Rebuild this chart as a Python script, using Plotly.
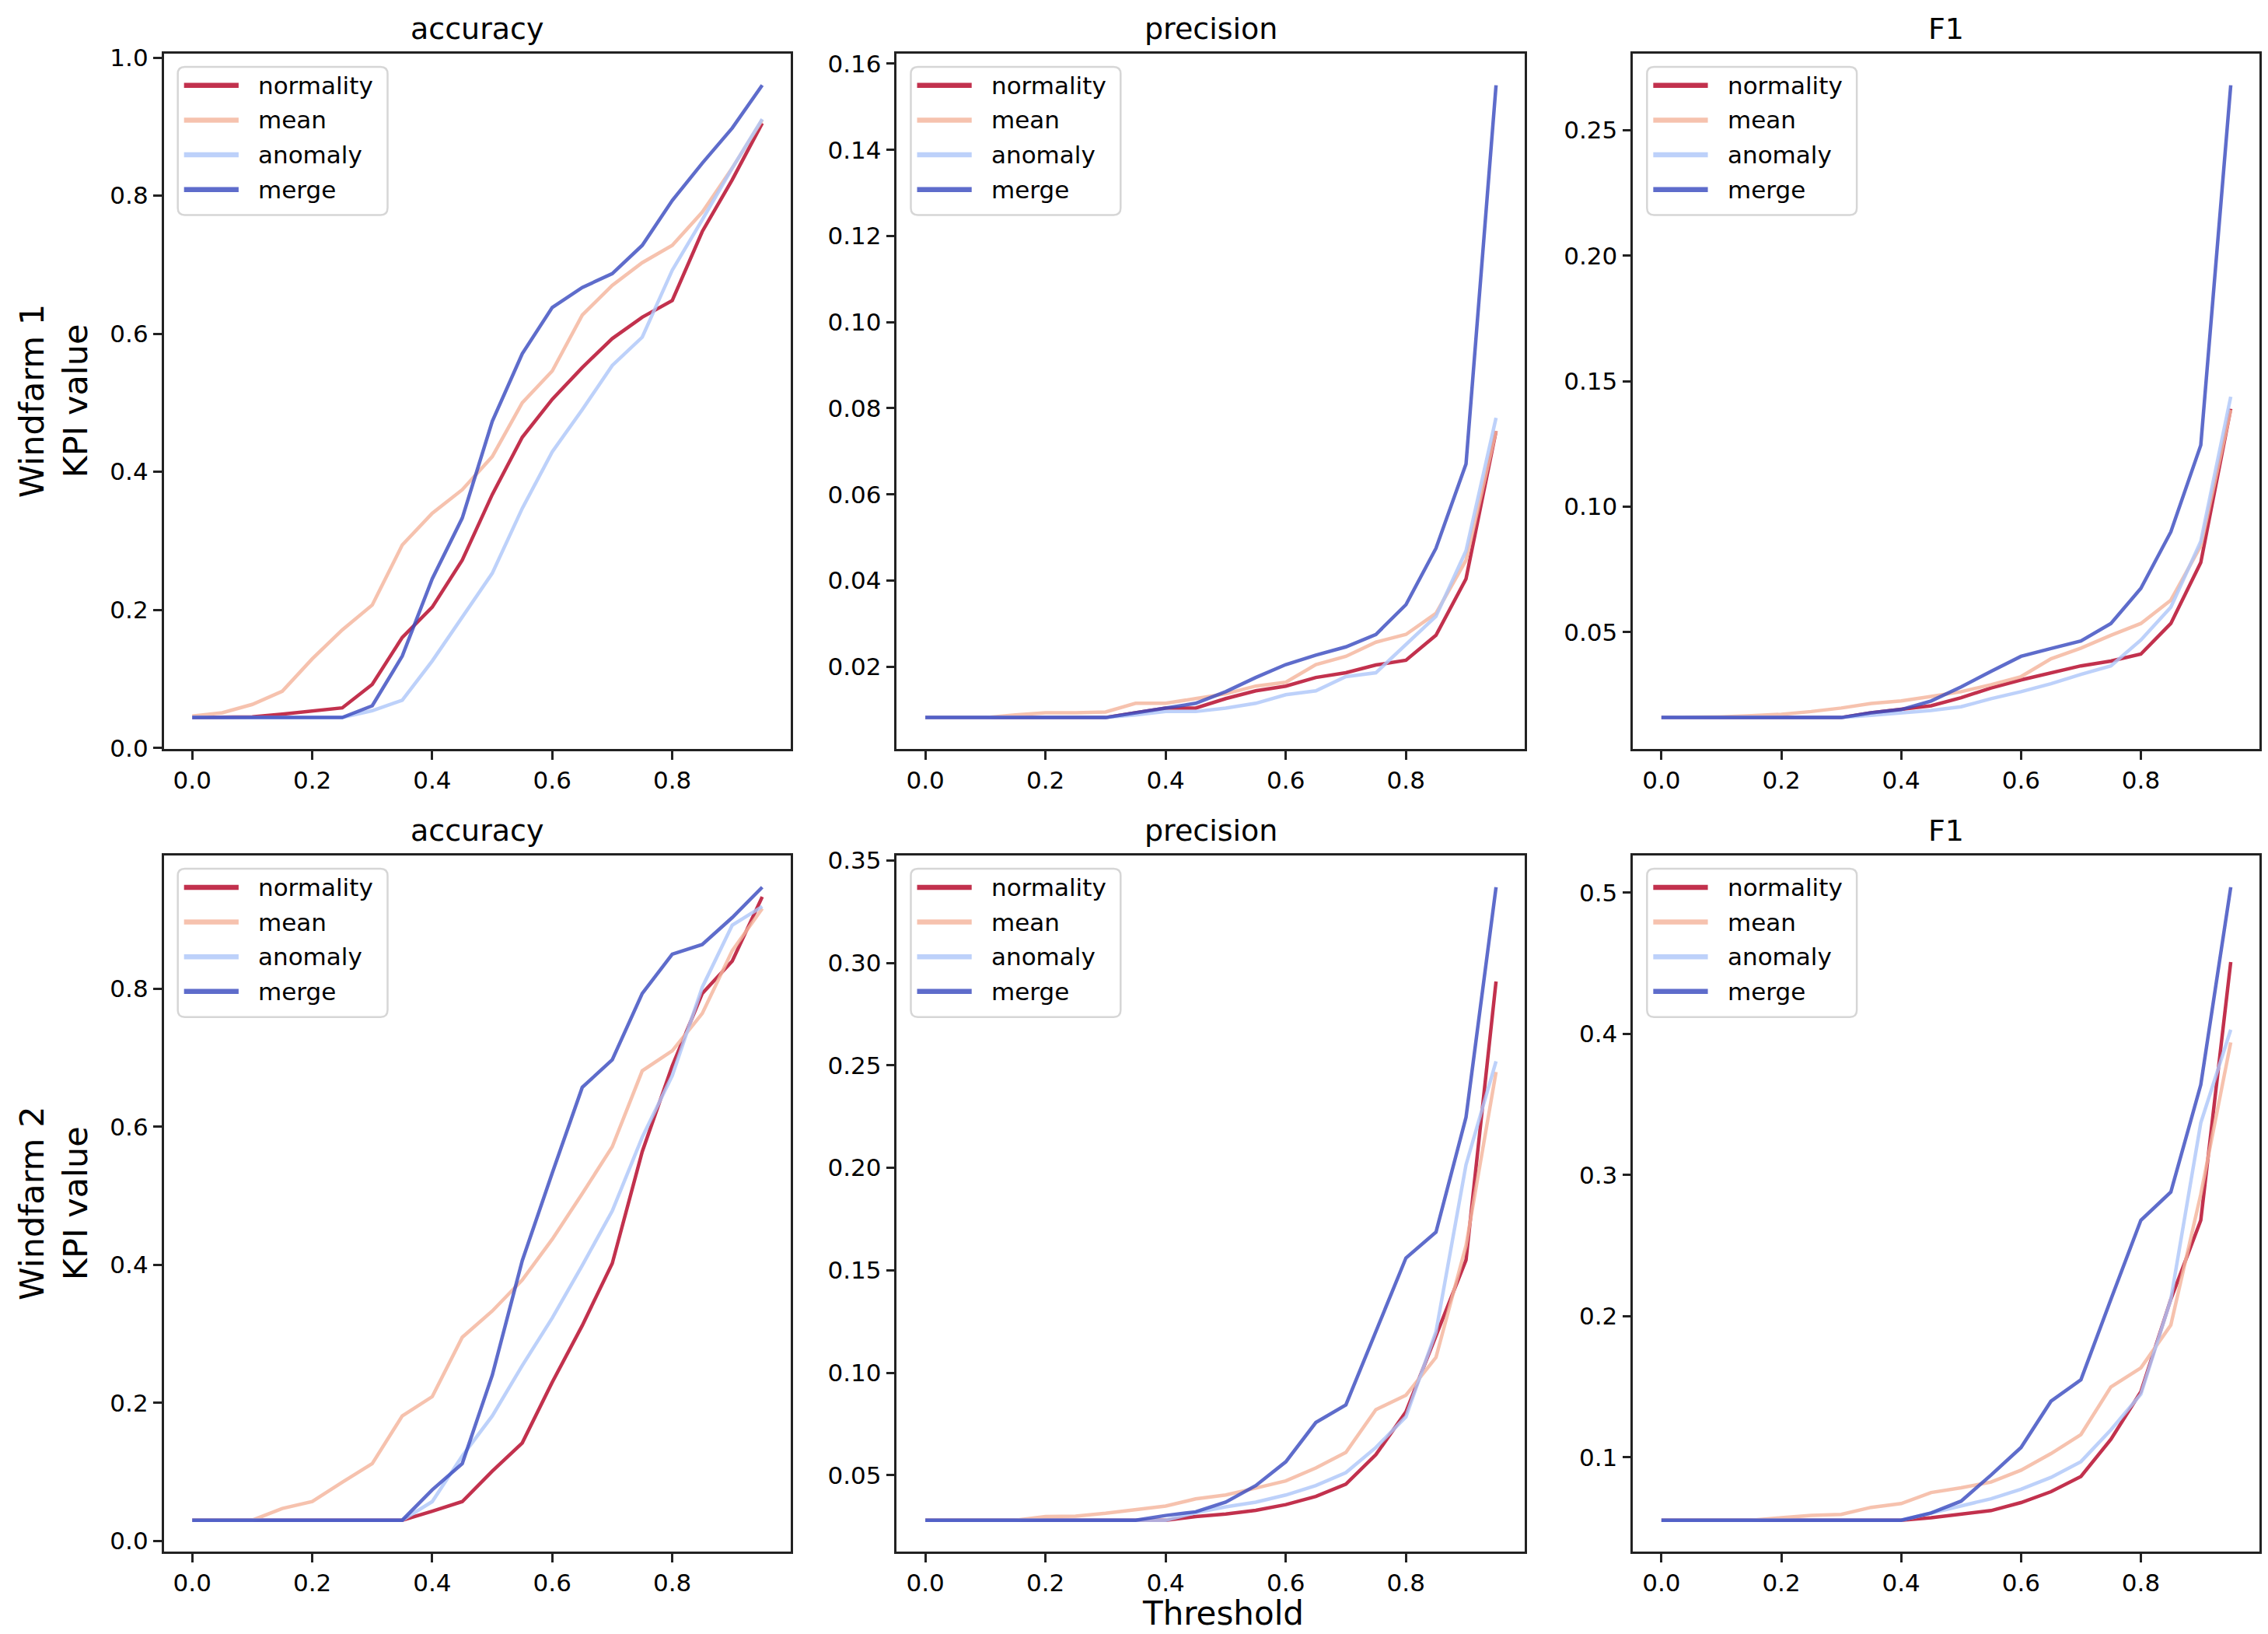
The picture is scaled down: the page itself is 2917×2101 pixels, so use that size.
import plotly.graph_objects as go

thresholds = [0.0, 0.05, 0.1, 0.15, 0.2, 0.25, 0.3, 0.35, 0.4, 0.45, 0.5, 0.55, 0.6, 0.65, 0.7, 0.75, 0.8, 0.85, 0.9, 0.95]
series_names = ["normality", "mean", "anomaly", "merge"]
metric_titles = ["accuracy", "precision", "F1"]
row_labels = ["Windfarm 1<br>KPI value", "Windfarm 2<br>KPI value"]
x_label = "Threshold"

# Windfarm 1
wf1_acc_normality = [0.044, 0.044, 0.045, 0.049, 0.053, 0.058, 0.092, 0.16, 0.204, 0.272, 0.367, 0.45, 0.505, 0.551, 0.593, 0.624, 0.648, 0.748, 0.823, 0.905]
wf1_acc_mean = [0.046, 0.051, 0.063, 0.082, 0.129, 0.171, 0.207, 0.294, 0.34, 0.374, 0.422, 0.5, 0.546, 0.627, 0.67, 0.703, 0.728, 0.776, 0.84, 0.91]
wf1_acc_anomaly = [0.044, 0.044, 0.044, 0.044, 0.044, 0.044, 0.054, 0.069, 0.126, 0.19, 0.253, 0.347, 0.429, 0.49, 0.554, 0.595, 0.692, 0.765, 0.84, 0.911]
wf1_acc_merge = [0.044, 0.044, 0.044, 0.044, 0.044, 0.044, 0.061, 0.133, 0.245, 0.333, 0.473, 0.571, 0.638, 0.667, 0.687, 0.728, 0.793, 0.847, 0.898, 0.96]

wf1_prec_normality = [0.0082, 0.0082, 0.0082, 0.0082, 0.0082, 0.0082, 0.0082, 0.0093, 0.0104, 0.0104, 0.0126, 0.0144, 0.0155, 0.0175, 0.0186, 0.0204, 0.0215, 0.0273, 0.0404, 0.0747]
wf1_prec_mean = [0.0082, 0.0082, 0.0082, 0.0088, 0.0093, 0.0093, 0.0095, 0.0115, 0.0115, 0.0126, 0.0137, 0.0155, 0.0164, 0.0205, 0.0224, 0.0257, 0.0275, 0.0324, 0.0447, 0.0747]
wf1_prec_anomaly = [0.0082, 0.0082, 0.0082, 0.0082, 0.0082, 0.0082, 0.0082, 0.0088, 0.0096, 0.0096, 0.0104, 0.0115, 0.0135, 0.0144, 0.0177, 0.0186, 0.0251, 0.0317, 0.0469, 0.0778]
wf1_prec_merge = [0.0082, 0.0082, 0.0082, 0.0082, 0.0082, 0.0082, 0.0082, 0.0093, 0.0104, 0.0115, 0.0142, 0.0175, 0.0205, 0.0227, 0.0246, 0.0275, 0.0344, 0.0475, 0.0671, 0.155]

wf1_f1_normality = [0.0159, 0.0159, 0.0159, 0.0159, 0.0159, 0.0159, 0.0159, 0.0178, 0.0191, 0.0206, 0.0238, 0.0277, 0.0309, 0.0337, 0.0365, 0.0384, 0.0412, 0.0534, 0.0777, 0.139]
wf1_f1_mean = [0.0159, 0.0160, 0.0162, 0.0166, 0.0172, 0.0183, 0.0197, 0.0215, 0.0225, 0.0243, 0.0262, 0.029, 0.0322, 0.0393, 0.0436, 0.0487, 0.0534, 0.0627, 0.0843, 0.1386]
wf1_f1_anomaly = [0.0159, 0.0159, 0.0159, 0.0159, 0.0159, 0.0159, 0.0159, 0.0168, 0.0178, 0.0187, 0.0202, 0.0234, 0.0262, 0.0294, 0.0331, 0.0365, 0.0468, 0.0599, 0.0861, 0.1438]
wf1_f1_merge = [0.0159, 0.0159, 0.0159, 0.0159, 0.0159, 0.0159, 0.0159, 0.0178, 0.0191, 0.0225, 0.0281, 0.0343, 0.0403, 0.0434, 0.0464, 0.0534, 0.0674, 0.0899, 0.1245, 0.268]

# Windfarm 2
wf2_acc_normality = [0.03, 0.03, 0.03, 0.03, 0.03, 0.03, 0.03, 0.03, 0.043, 0.057, 0.101, 0.142, 0.23, 0.312, 0.402, 0.564, 0.688, 0.793, 0.84, 0.933]
wf2_acc_mean = [0.03, 0.03, 0.03, 0.047, 0.057, 0.085, 0.112, 0.181, 0.209, 0.295, 0.333, 0.378, 0.437, 0.503, 0.571, 0.681, 0.71, 0.764, 0.855, 0.916]
wf2_acc_anomaly = [0.03, 0.03, 0.03, 0.03, 0.03, 0.03, 0.03, 0.03, 0.057, 0.123, 0.181, 0.254, 0.323, 0.399, 0.478, 0.585, 0.674, 0.802, 0.892, 0.919]
wf2_acc_merge = [0.03, 0.03, 0.03, 0.03, 0.03, 0.03, 0.03, 0.03, 0.074, 0.112, 0.24, 0.406, 0.533, 0.657, 0.697, 0.793, 0.85, 0.864, 0.903, 0.947]

wf2_prec_normality = [0.028, 0.028, 0.028, 0.028, 0.028, 0.028, 0.028, 0.028, 0.028, 0.0298, 0.031, 0.0328, 0.0356, 0.0396, 0.0456, 0.06, 0.0809, 0.118, 0.155, 0.291]
wf2_prec_mean = [0.028, 0.028, 0.028, 0.028, 0.0298, 0.030, 0.0314, 0.0333, 0.0349, 0.0384, 0.0403, 0.0437, 0.0472, 0.0535, 0.0611, 0.082, 0.089, 0.1075, 0.162, 0.2468]
wf2_prec_anomaly = [0.028, 0.028, 0.028, 0.028, 0.028, 0.028, 0.028, 0.028, 0.028, 0.0317, 0.0345, 0.0368, 0.0403, 0.0449, 0.0512, 0.0635, 0.0785, 0.12, 0.2015, 0.252]
wf2_prec_merge = [0.028, 0.028, 0.028, 0.028, 0.028, 0.028, 0.028, 0.028, 0.0303, 0.0321, 0.0368, 0.0449, 0.0565, 0.0757, 0.0843, 0.12, 0.156, 0.1686, 0.2247, 0.337]

wf2_f1_normality = [0.0555, 0.0555, 0.0555, 0.0555, 0.0555, 0.0555, 0.0555, 0.0555, 0.0555, 0.0572, 0.0599, 0.0623, 0.068, 0.0757, 0.0865, 0.1128, 0.1465, 0.212, 0.268, 0.451]
wf2_f1_mean = [0.0555, 0.0555, 0.0555, 0.0555, 0.0572, 0.0589, 0.0596, 0.0646, 0.0673, 0.0751, 0.0785, 0.0825, 0.0909, 0.1027, 0.1162, 0.1499, 0.1634, 0.1937, 0.2864, 0.394]
wf2_f1_anomaly = [0.0555, 0.0555, 0.0555, 0.0555, 0.0555, 0.0555, 0.0555, 0.0555, 0.0555, 0.0606, 0.0656, 0.0707, 0.0774, 0.0858, 0.097, 0.1195, 0.1448, 0.212, 0.337, 0.403]
wf2_f1_merge = [0.0555, 0.0555, 0.0555, 0.0555, 0.0555, 0.0555, 0.0555, 0.0555, 0.0555, 0.0606, 0.069, 0.0875, 0.107, 0.1398, 0.155, 0.212, 0.268, 0.288, 0.364, 0.504]

panels = [
    [wf1_acc_normality, wf1_acc_mean, wf1_acc_anomaly, wf1_acc_merge],
    [wf1_prec_normality, wf1_prec_mean, wf1_prec_anomaly, wf1_prec_merge],
    [wf1_f1_normality, wf1_f1_mean, wf1_f1_anomaly, wf1_f1_merge],
    [wf2_acc_normality, wf2_acc_mean, wf2_acc_anomaly, wf2_acc_merge],
    [wf2_prec_normality, wf2_prec_mean, wf2_prec_anomaly, wf2_prec_merge],
    [wf2_f1_normality, wf2_f1_mean, wf2_f1_anomaly, wf2_f1_merge],
]

colors = ["rgba(180,4,38,0.82)", "rgba(244,181,156,0.82)", "rgba(174,199,249,0.82)", "rgba(59,76,192,0.82)"]
ytick_cfg = [
    (0.2, ".1f"), (0.02, ".2f"), (0.05, ".2f"),
    (0.2, ".1f"), (0.05, ".2f"), (0.1, ".1f"),
]

W, H = 2917, 2101
# target pixel layout (as in the reference picture)
col_x = [(210, 1014), (1150, 1955), (2094, 2897)]
row_y = [(65, 961), (1098, 1995)]


# compensation for page offset / scaling observed in rendering
def PX(v):
    return (v - 8.0) / 0.997 / W


def PY(v):
    return 1 - (v - 17.0) / 0.988 / H


FONT = "DejaVu Sans"
fig = go.Figure()
annotations = []
shapes = []
layout = dict(
    width=W, height=H, margin=dict(l=0, r=0, t=0, b=0),
    paper_bgcolor="white", plot_bgcolor="white",
    font=dict(family=FONT, size=31, color="black"),
    showlegend=False,
)

span = thresholds[-1] - thresholds[0]
xr = [thresholds[0] - 0.05 * span, thresholds[-1] + 0.05 * span]

for i, series in enumerate(panels):
    r, c = divmod(i, 3)
    idx = "" if i == 0 else str(i + 1)
    for name, vals, col in zip(series_names, series, colors):
        fig.add_trace(go.Scatter(
            x=thresholds, y=vals, mode="lines", name=name,
            line=dict(color=col, width=4.5),
            xaxis="x" + idx, yaxis="y" + idx,
        ))
    allv = [v for s in series for v in s]
    lo, hi = min(allv), max(allv)
    pad = 0.05 * (hi - lo)
    x0, x1 = col_x[c]
    y0, y1 = row_y[r]
    dtick, fmt = ytick_cfg[i]
    axstyle = dict(showgrid=False, zeroline=False, showline=True, mirror=True,
                   linecolor="#222222", linewidth=2.5, ticks="outside", ticklen=11,
                   tickwidth=2.5, tickcolor="#222222",
                   tickfont=dict(family=FONT, size=31, color="black"))
    layout["xaxis" + idx] = dict(domain=[PX(x0), PX(x1)], anchor="y" + idx,
                                 range=xr, dtick=0.2, tick0=0, tickformat=".1f", **axstyle)
    layout["yaxis" + idx] = dict(domain=[PY(y1), PY(y0)], anchor="x" + idx,
                                 range=[lo - pad, hi + pad], dtick=dtick, tick0=0,
                                 tickformat=fmt, **axstyle)
    # title
    annotations.append(dict(
        text=metric_titles[c], x=PX((x0 + x1) / 2), y=PY(33),
        xref="paper", yref="paper", xanchor="center", yanchor="middle",
        showarrow=False, font=dict(family=FONT, size=38, color="black")))
    if r == 1:
        annotations[-1]["y"] = PY(1098 - 32)
    # legend box (rounded)
    bx0, bx1 = x0 + 18, x0 + 287
    by0, by1 = y0 + 17, y0 + 208
    rr = 9
    path = (f"M {PX(bx0 + rr)},{PY(by0)} L {PX(bx1 - rr)},{PY(by0)} "
            f"Q {PX(bx1)},{PY(by0)} {PX(bx1)},{PY(by0 + rr)} "
            f"L {PX(bx1)},{PY(by1 - rr)} Q {PX(bx1)},{PY(by1)} {PX(bx1 - rr)},{PY(by1)} "
            f"L {PX(bx0 + rr)},{PY(by1)} Q {PX(bx0)},{PY(by1)} {PX(bx0)},{PY(by1 - rr)} "
            f"L {PX(bx0)},{PY(by0 + rr)} Q {PX(bx0)},{PY(by0)} {PX(bx0 + rr)},{PY(by0)} Z")
    shapes.append(dict(type="path", path=path, xref="paper", yref="paper",
                       fillcolor="rgba(255,255,255,0.8)", line=dict(color="#d6d6d6", width=2.5),
                       layer="above"))
    for k, (name, col) in enumerate(zip(series_names, colors)):
        yy = y0 + 41 + k * 44.7
        shapes.append(dict(type="line", xref="paper", yref="paper",
                           x0=PX(x0 + 26), x1=PX(x0 + 96), y0=PY(yy), y1=PY(yy),
                           line=dict(color=col, width=6.5), layer="above"))
        annotations.append(dict(
            text=name, x=PX(x0 + 119), y=PY(yy), xref="paper", yref="paper",
            xanchor="left", yanchor="middle", showarrow=False,
            font=dict(family=FONT, size=31, color="black")))

for r in range(2):
    y0, y1 = row_y[r]
    annotations.append(dict(
        text=row_labels[r], x=PX(69), y=PY((y0 + y1) / 2), xref="paper", yref="paper",
        xanchor="center", yanchor="middle", textangle=-90, showarrow=False,
        font=dict(family=FONT, size=43, color="black")))

annotations.append(dict(
    text=x_label, x=PX(1568), y=PY(2074),
    xref="paper", yref="paper", xanchor="center", yanchor="middle", showarrow=False,
    font=dict(family=FONT, size=42, color="black")))

layout["annotations"] = annotations
layout["shapes"] = shapes
fig.update_layout(**layout)
fig.write_html("out.html")
